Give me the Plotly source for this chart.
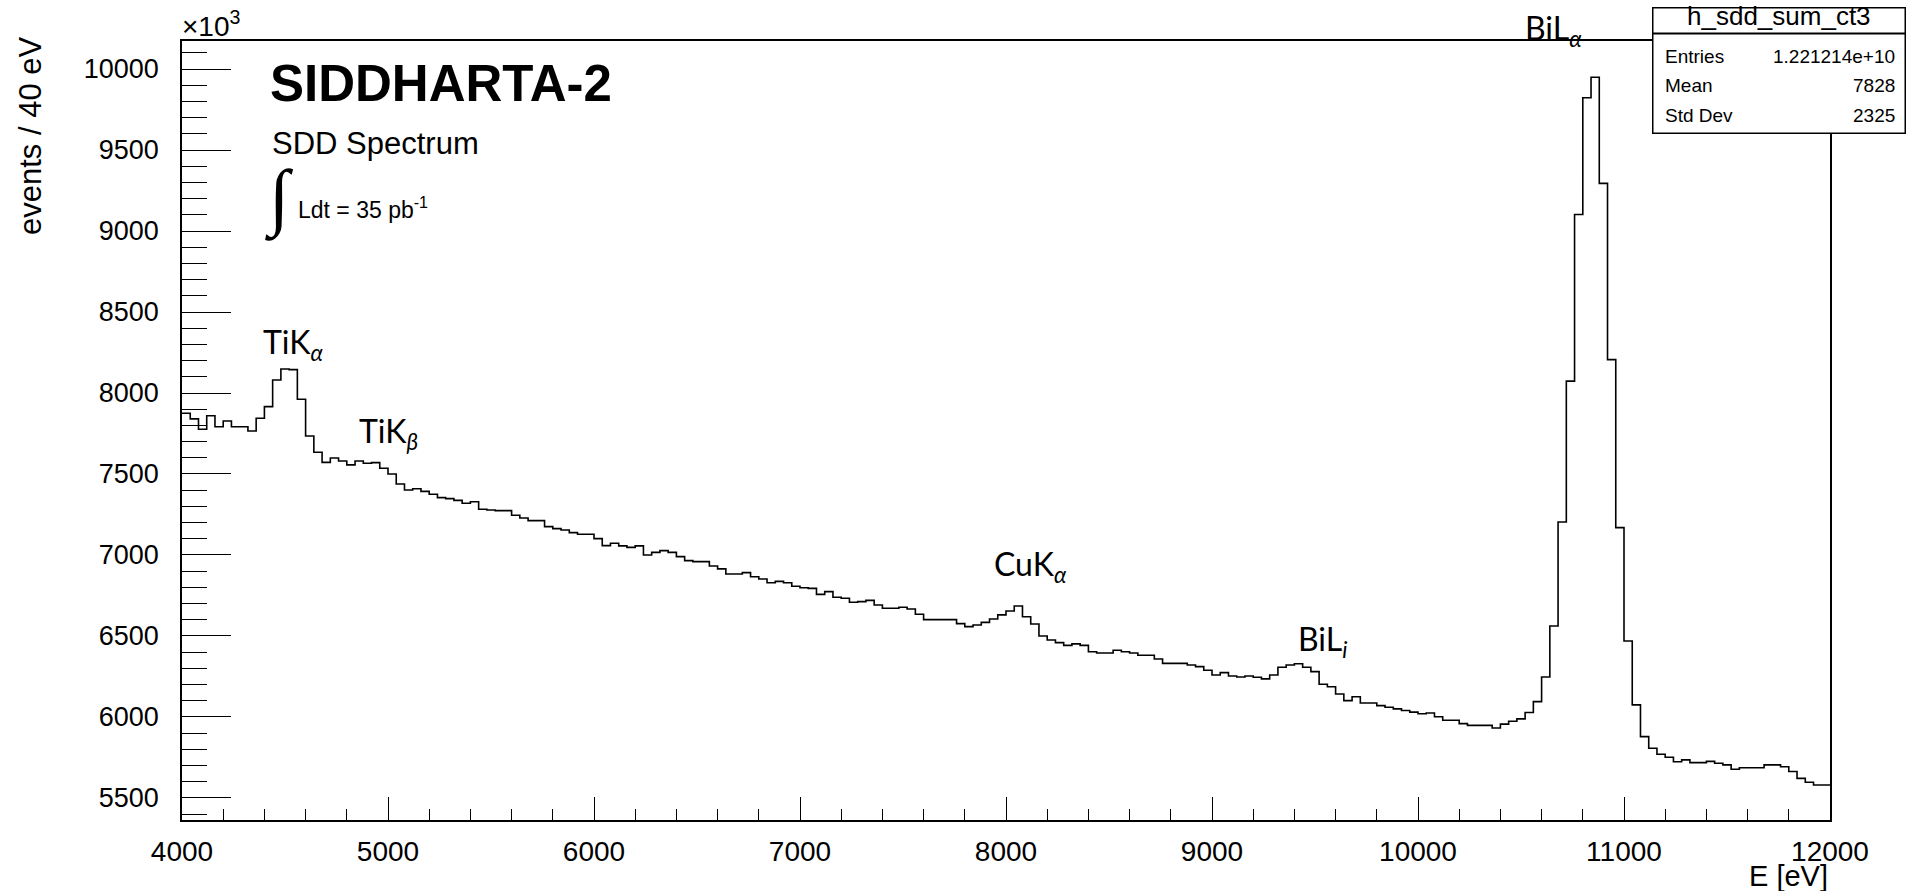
import numpy as np
import plotly.graph_objects as go

# ---- data -------------------------------------------------------------
E_MIN, E_MAX, BIN_W = 4000, 12000, 40  # eV
counts = [
    7875, 7840, 7776, 7860, 7792, 7827, 7792, 7792, 7765, 7844,
    7916, 8080, 8148, 8144, 7961, 7735, 7634, 7572, 7599, 7580,
    7556, 7580, 7566, 7570, 7535, 7500, 7438, 7401, 7409, 7393,
    7375, 7354, 7348, 7337, 7319, 7329, 7282, 7278, 7274, 7274,
    7245, 7228, 7212, 7212, 7175, 7163, 7154, 7138, 7128, 7128,
    7101, 7058, 7072, 7056, 7047, 7056, 7000, 7016, 7027, 7016,
    6990, 6965, 6959, 6959, 6932, 6914, 6883, 6883, 6891, 6866,
    6852, 6829, 6837, 6829, 6807, 6798, 6794, 6757, 6774, 6739,
    6733, 6708, 6712, 6720, 6691, 6671, 6671, 6677, 6667, 6634,
    6601, 6601, 6601, 6601, 6576, 6558, 6568, 6584, 6605, 6630,
    6654, 6685, 6619, 6574, 6500, 6475, 6459, 6442, 6451, 6442,
    6403, 6395, 6395, 6412, 6403, 6395, 6381, 6381, 6358, 6331,
    6331, 6331, 6321, 6311, 6288, 6259, 6274, 6253, 6247, 6253,
    6245, 6235, 6259, 6307, 6321, 6329, 6307, 6280, 6202, 6187,
    6142, 6101, 6125, 6086, 6086, 6070, 6060, 6050, 6040, 6030,
    6020, 6025, 6001, 5980, 5980, 5959, 5948, 5948, 5948, 5932,
    5956, 5974, 5988, 6028, 6095, 6247, 6562, 7204, 8073, 9102,
    9823, 9949, 9294, 8206, 7169, 6469, 6075, 5879, 5807, 5770,
    5751, 5724, 5735, 5718, 5718, 5726, 5714, 5704, 5677, 5687,
    5687, 5687, 5704, 5704, 5693, 5663, 5621, 5597, 5580, 5580,
]
x_tick_vals = [4000, 5000, 6000, 7000, 8000, 9000, 10000, 11000, 12000]
y_tick_vals = [5500, 6000, 6500, 7000, 7500, 8000, 8500, 9000, 9500, 10000]

peak_labels = ["TiK<sub><i>α</i></sub>", "TiK<sub><i>β</i></sub>",
               "CuK<sub><i>α</i></sub>", "BiL<sub><i>i</i></sub>"]
peak_x = [4537, 5004, 8115, 9537]
peak_y = [8302, 7753, 6935, 6469]

stats_title = "h_sdd_sum_ct3"
stats_names = ["Entries", "Mean", "Std Dev"]
stats_vals = ["1.221214e+10", "7828", "2325"]

# ---- figure -----------------------------------------------------------
edges = np.arange(E_MIN, E_MAX + BIN_W, BIN_W)
yy = list(counts) + [counts[-1]]

W, H = 1907, 891
L, R, T, B = 182, 77, 41, 71
PW, PH = W - L - R, H - T - B


def px(xp):
    return (xp - L) / PW


def py(yp):
    return (H - B - yp) / PH


FONT = "Liberation Sans, Arial, Helvetica, sans-serif"
LBL_FONT = "Lato, Open Sans, sans-serif"

fig = go.Figure()
fig.add_trace(go.Scatter(x=edges, y=yy, mode="lines", line_shape="hv",
                         line=dict(color="black", width=1.6),
                         hoverinfo="skip", showlegend=False))

fig.update_layout(
    width=W, height=H,
    margin=dict(l=L, r=R, t=T, b=B, pad=0),
    paper_bgcolor="white", plot_bgcolor="white",
    font=dict(family=FONT, color="black", size=28),
    showlegend=False,
)
fig.update_xaxes(range=[E_MIN, E_MAX], tickvals=x_tick_vals,
                 ticktext=[str(v) for v in x_tick_vals],
                 ticks="inside", ticklen=23, tickwidth=1.2, tickcolor="black",
                 minor=dict(ticks="inside", ticklen=11, dtick=200, tick0=4000,
                            tickcolor="black", tickwidth=1.2),
                 showgrid=False, zeroline=False, showline=True, linecolor="black",
                 linewidth=1.5, mirror=True, tickfont=dict(size=28),
                 ticklabelstandoff=6)
fig.update_yaxes(range=[5364, 10173], tickvals=y_tick_vals,
                 ticktext=[str(v) for v in y_tick_vals],
                 ticks="inside", ticklen=49, tickwidth=1.2, tickcolor="black",
                 minor=dict(ticks="inside", ticklen=25, dtick=100, tick0=5500,
                            tickcolor="black", tickwidth=1.2),
                 showgrid=False, zeroline=False, showline=True, linecolor="black",
                 linewidth=1.5, mirror=True, tickfont=dict(size=27),
                 ticklabelstandoff=16)

ann = []
# axis titles
ann.append(dict(text="events / 40 eV", x=px(30), y=py(136), xref="paper", yref="paper",
                textangle=-90, showarrow=False, font=dict(size=31),
                xanchor="center", yanchor="middle"))
ann.append(dict(text="E [eV]", x=px(1829), y=py(876), xref="paper", yref="paper",
                showarrow=False, font=dict(size=29), xanchor="right", yanchor="middle",
                borderpad=0))
ann.append(dict(text="×10<sup>3</sup>", x=px(180), y=py(24), xref="paper", yref="paper",
                showarrow=False, font=dict(size=28), xanchor="left", yanchor="middle"))
# title block
ann.append(dict(text="<b>SIDDHARTA-2</b>", x=px(268), y=py(84), xref="paper", yref="paper",
                showarrow=False, font=dict(size=51), xanchor="left", yanchor="middle"))
ann.append(dict(text="SDD Spectrum", x=px(270), y=py(143), xref="paper", yref="paper",
                showarrow=False, font=dict(size=31), xanchor="left", yanchor="middle"))
ann.append(dict(text="∫", x=px(279), y=py(198), xref="paper", yref="paper",
                showarrow=False, font=dict(size=74, family="Liberation Serif"),
                xanchor="center", yanchor="middle"))
ann.append(dict(text="Ldt = 35 pb<sup>-1</sup>", x=px(296), y=py(208), xref="paper", yref="paper",
                showarrow=False, font=dict(size=23), xanchor="left", yanchor="middle"))
# peak labels
for t, xv, yv in zip(peak_labels, peak_x, peak_y):
    ann.append(dict(text=t, x=xv, y=yv, xref="x", yref="y", showarrow=False,
                    font=dict(size=32, family=LBL_FONT), xanchor="center", yanchor="middle"))
ann.append(dict(text="BiL<sub><i>α</i></sub>", x=px(1553), y=py(30), xref="paper", yref="paper",
                showarrow=False, font=dict(size=32, family=LBL_FONT),
                xanchor="center", yanchor="middle"))
# stats box (bordered annotations so it sits above the frame)
BOX_L, BOX_R = 1652, 1906
ann.append(dict(text=" ", x=px(BOX_L), y=py(33), xref="paper", yref="paper",
                xanchor="left", yanchor="top", showarrow=False,
                width=BOX_R - BOX_L - 3, height=134 - 33 - 3, borderpad=0,
                bgcolor="white", bordercolor="black", borderwidth=1.5))
ann.append(dict(text=" ", x=px(BOX_L), y=py(7), xref="paper", yref="paper",
                xanchor="left", yanchor="top", showarrow=False,
                width=BOX_R - BOX_L - 3, height=33 - 7 - 2, borderpad=0,
                bgcolor="white", bordercolor="black", borderwidth=1.5))
ann.append(dict(text=stats_title, x=px(1779), y=py(16), xref="paper", yref="paper",
                xanchor="center", yanchor="middle", showarrow=False,
                font=dict(size=26)))
for i, (n, v) in enumerate(zip(stats_names, stats_vals)):
    yp = 56 + i * 29.5
    ann.append(dict(text=n, x=px(1663), y=py(yp), xref="paper", yref="paper",
                    showarrow=False, font=dict(size=19), xanchor="left", yanchor="middle"))
    ann.append(dict(text=v, x=px(1897), y=py(yp), xref="paper", yref="paper",
                    showarrow=False, font=dict(size=19), xanchor="right", yanchor="middle"))
fig.update_layout(annotations=ann)

fig.write_html("out.html")
